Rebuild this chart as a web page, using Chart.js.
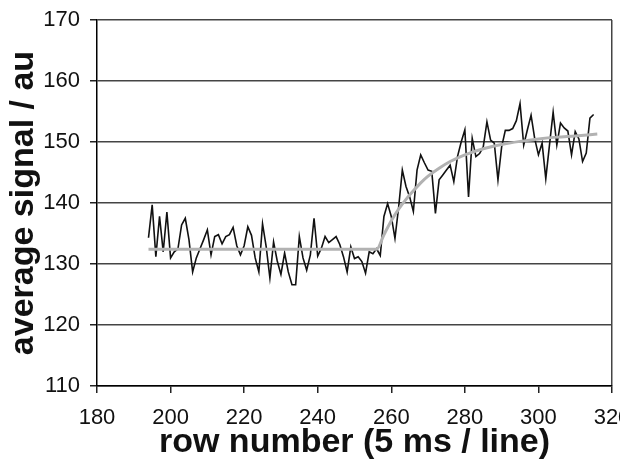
<!DOCTYPE html>
<html>
<head>
<meta charset="utf-8">
<script src="https://cdn.jsdelivr.net/npm/chart.js@4.4.0/dist/chart.umd.min.js"></script>
<style>
  html, body { margin: 0; padding: 0; background: #fff; overflow: hidden; }
</style>
</head>
<body>
<canvas id="signalChart" width="620" height="463"></canvas>
<script>
// raw signal, one value per row
const rows = [
  194, 195, 196, 197, 198, 199, 200, 201, 202, 203, 204, 205, 206, 207, 208, 209, 210, 211, 212, 213,
  214, 215, 216, 217, 218, 219, 220, 221, 222, 223, 224, 225, 226, 227, 228, 229, 230, 231, 232, 233,
  234, 235, 236, 237, 238, 239, 240, 241, 242, 243, 244, 245, 246, 247, 248, 249, 250, 251, 252, 253,
  254, 255, 256, 257, 258, 259, 260, 261, 262, 263, 264, 265, 266, 267, 268, 269, 270, 271, 272, 273,
  274, 275, 276, 277, 278, 279, 280, 281, 282, 283, 284, 285, 286, 287, 288, 289, 290, 291, 292, 293,
  294, 295, 296, 297, 298, 299, 300, 301, 302, 303, 304, 305, 306, 307, 308, 309, 310, 311, 312, 313,
  314, 315
];
const signal = [
  134.3, 139.7, 131.2, 137.8, 132.0, 138.5, 131.0, 132.0, 132.5, 136.4, 137.5, 134.0, 128.7, 131.0, 132.5, 134.0, 135.6, 131.5, 134.5, 134.8,
  133.3, 134.5, 134.8, 136.0, 133.0, 131.5, 133.0, 136.1, 134.7, 131.0, 128.7, 136.6, 132.8, 127.7, 133.6, 130.5, 128.3, 131.8, 128.7, 126.6,
  126.6, 134.5, 131.0, 129.0, 131.5, 137.5, 131.3, 132.6, 134.5, 133.5, 134.0, 134.5, 133.2, 131.2, 128.7, 132.8, 130.9, 131.2, 130.4, 128.5,
  132.0, 131.7, 132.5, 131.4, 137.8, 139.9, 137.8, 134.2, 139.3, 145.4, 142.7, 141.0, 138.6, 145.4, 147.9, 146.6, 145.4, 145.2, 138.3, 143.8,
  144.6, 145.4, 146.2, 143.5, 147.6, 150.0, 152.0, 141.0, 150.6, 147.6, 148.1, 149.2, 153.3, 150.3, 149.8, 143.8, 149.2, 151.9, 151.9, 152.2,
  153.5, 156.3, 149.5, 152.0, 154.4, 150.5, 147.9, 149.8, 144.0, 149.5, 154.9, 149.5, 153.1, 152.3, 151.8, 147.9, 151.7, 150.5, 146.8, 148.2,
  153.9, 154.5
];

// fitted curve (grey)
const fitRows = [194, 256, 258, 260, 262, 264, 266, 268, 270, 273, 276, 280, 285, 290, 295, 300, 305, 310, 316];
const fitValues = [132.4, 132.4, 134.8, 137.1, 139.0, 140.6, 142.0, 143.3, 144.4, 145.7, 146.8, 147.9, 148.9, 149.6, 150.1, 150.5, 150.8, 151.0, 151.3];

const xTicks = [180, 200, 220, 240, 260, 280, 300, 320];
const yTicks = [110, 120, 130, 140, 150, 160, 170];

const signalPoints = rows.map((r, i) => ({ x: r, y: signal[i] }));
const fitPoints = fitRows.map((r, i) => ({ x: r, y: fitValues[i] }));

const FONT = "'Liberation Sans', Arial, sans-serif";

const ctx = document.getElementById("signalChart").getContext("2d");

new Chart(ctx, {
  type: "line",
  data: {
    datasets: [
      {
        label: "fit",
        data: fitPoints,
        borderColor: "#b2b2b2",
        borderWidth: 3,
        pointRadius: 0,
        cubicInterpolationMode: "monotone",
        order: 0
      },
      {
        label: "signal",
        data: signalPoints,
        borderColor: "#111111",
        borderWidth: 1.6,
        pointRadius: 0,
        tension: 0,
        order: 1
      }
    ]
  },
  options: {
    responsive: false,
    animation: false,
    layout: { padding: { top: 20, right: 8, bottom: 0, left: 0 } },
    plugins: {
      legend: { display: false },
      tooltip: { enabled: false }
    },
    scales: {
      x: {
        type: "linear",
        min: xTicks[0],
        max: xTicks[xTicks.length - 1],
        afterBuildTicks: (scale) => { scale.ticks = xTicks.map(v => ({ value: v })); },
        afterFit: (scale) => {
          scale.height = 77;
          scale.paddingRight = 0;
          scale.paddingLeft = 0;
        },
        border: { display: true, color: "#000", width: 1.5 },
        grid: {
          color: (c) => (c.tick && c.tick.value === 320 ? "#444" : "rgba(0,0,0,0)"),
          lineWidth: 1.5,
          tickColor: "#222",
          tickLength: 7,
          drawTicks: true
        },
        ticks: {
          color: "#111",
          padding: 12,
          maxRotation: 0,
          autoSkip: false,
          font: { family: FONT, size: 22 }
        },
        title: {
          display: true,
          text: "row number (5 ms / line)",
          color: "#111",
          padding: { top: 0, bottom: 0 },
          font: { family: FONT, size: 34, weight: "bold" }
        }
      },
      y: {
        type: "linear",
        min: yTicks[0],
        max: yTicks[yTicks.length - 1],
        afterBuildTicks: (scale) => { scale.ticks = yTicks.map(v => ({ value: v })); },
        afterFit: (scale) => {
          scale.width = 97;
          scale.paddingTop = 0;
          scale.paddingBottom = 0;
        },
        border: { display: true, color: "#000", width: 1.5 },
        grid: {
          color: "#444",
          lineWidth: 1.5,
          tickColor: "#222",
          tickLength: 7
        },
        ticks: {
          color: "#111",
          padding: 10,
          font: { family: FONT, size: 22 }
        },
        title: {
          display: true,
          text: "average signal / au",
          color: "#111",
          padding: { top: 3, bottom: 0 },
          font: { family: FONT, size: 34, weight: "bold" }
        }
      }
    }
  }
});
</script>
</body>
</html>
